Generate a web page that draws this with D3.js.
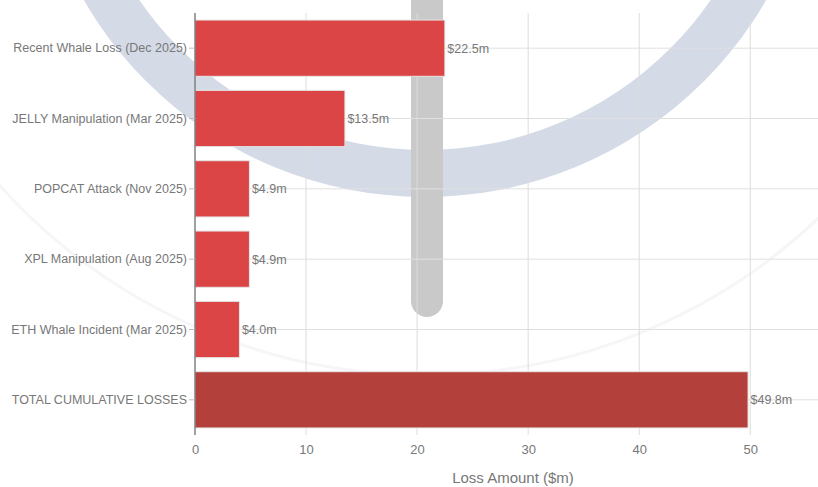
<!DOCTYPE html>
<html>
<head>
<meta charset="utf-8">
<script src="https://cdn.jsdelivr.net/npm/d3@7"></script>
<style>
html,body{margin:0;padding:0;background:#fff;overflow:hidden;}
svg{display:block;font-family:"Liberation Sans",Arial,Helvetica,sans-serif;}
</style>
</head>
<body>
<svg id="chart" width="818" height="487"></svg>
<script>
const categories = [
  "Recent Whale Loss (Dec 2025)",
  "JELLY Manipulation (Mar 2025)",
  "POPCAT Attack (Nov 2025)",
  "XPL Manipulation (Aug 2025)",
  "ETH Whale Incident (Mar 2025)",
  "TOTAL CUMULATIVE LOSSES"
];
const values = [22.5, 13.5, 4.9, 4.9, 4.0, 49.8];
const valueLabels = ["$22.5m", "$13.5m", "$4.9m", "$4.9m", "$4.0m", "$49.8m"];
const xTicks = [0, 10, 20, 30, 40, 50];
const xTitle = "Loss Amount ($m)";

const W = 818, H = 487;
const margin = {left: 195, top: 13, right: 831, bottom: 435};
const svg = d3.select("#chart");

const x = d3.scaleLinear().domain([0, d3.max(values) * 1.15]).range([margin.left, margin.right]);
const y = d3.scaleBand().domain(categories).range([margin.top, margin.bottom]).paddingInner(0.2).paddingOuter(0.1);

// background watermark
const wm = svg.append("g");
const cx = 425, cy = -197;
wm.append("circle").attr("cx", cx).attr("cy", cy).attr("r", 572)
  .attr("fill", "none").attr("stroke", "#f6f6f8").attr("stroke-width", 3);
wm.append("path")
  .attr("transform", `translate(${cx},${cy})`)
  .attr("d", d3.arc().innerRadius(347).outerRadius(394).startAngle(0).endAngle(2 * Math.PI)())
  .attr("fill", "#d4dae6");
wm.append("rect").attr("x", 411).attr("y", -40).attr("width", 32).attr("height", 357)
  .attr("rx", 16).attr("fill", "#c9c9c9");

// grid
const grid = svg.append("g");
grid.selectAll("line.v").data(xTicks).join("line")
  .attr("x1", d => x(d)).attr("x2", d => x(d))
  .attr("y1", margin.top).attr("y2", margin.bottom)
  .attr("stroke", "#dcdcdc").attr("stroke-width", 1);
grid.selectAll("line.h").data(categories).join("line")
  .attr("x1", margin.left).attr("x2", W)
  .attr("y1", d => y(d) + y.bandwidth() / 2).attr("y2", d => y(d) + y.bandwidth() / 2)
  .attr("stroke", "#e0e0e0").attr("stroke-width", 1);

// bars
const last = categories.length - 1;
svg.append("g").selectAll("rect").data(values).join("rect")
  .attr("x", x(0))
  .attr("y", (d, i) => y(categories[i]))
  .attr("width", d => x(d) - x(0))
  .attr("height", y.bandwidth())
  .attr("fill", (d, i) => i === last ? "#b4403c" : "#db4546")
  .attr("stroke", "#e6e6e6").attr("stroke-width", 1);

// value labels
svg.append("g").selectAll("text").data(values).join("text")
  .attr("x", d => x(d) + 2.5)
  .attr("y", (d, i) => y(categories[i]) + y.bandwidth() / 2)
  .attr("dy", "0.35em")
  .attr("font-size", "12.5px")
  .attr("fill", "#777")
  .text((d, i) => valueLabels[i]);

// y axis
const yAxis = svg.append("g").attr("transform", `translate(${margin.left},0)`)
  .call(d3.axisLeft(y).tickSize(6).tickPadding(2));
yAxis.select(".domain").attr("stroke", "#555").attr("d", `M0,${margin.top}V${margin.bottom}`);
yAxis.selectAll(".tick line").attr("stroke", "#bbb");
yAxis.selectAll(".tick text").attr("fill", "#777").attr("font-size", "12.5px")
  .attr("font-family", "Liberation Sans, Arial, sans-serif");

// x axis
const xAxis = svg.append("g").attr("transform", `translate(0,${margin.bottom})`)
  .call(d3.axisBottom(x).tickValues(xTicks).tickSize(0).tickPadding(10));
xAxis.select(".domain").remove();
xAxis.selectAll(".tick text").attr("fill", "#777").attr("font-size", "13px")
  .attr("font-family", "Liberation Sans, Arial, sans-serif");

svg.append("text")
  .attr("x", (margin.left + margin.right) / 2)
  .attr("y", 483)
  .attr("text-anchor", "middle")
  .attr("font-size", "15px")
  .attr("fill", "#777")
  .text(xTitle);
</script>
</body>
</html>
